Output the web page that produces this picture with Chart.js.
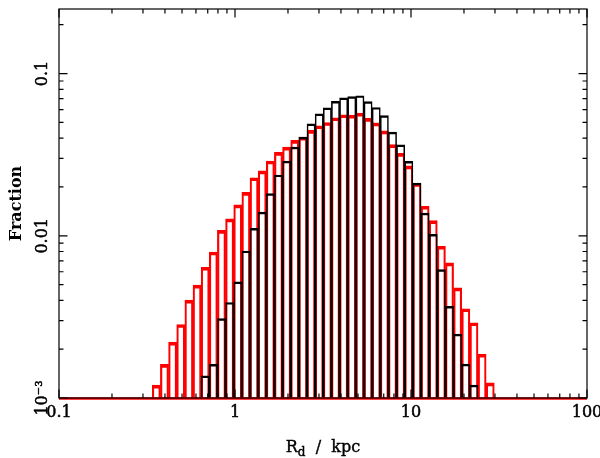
<!DOCTYPE html>
<html><head><meta charset="utf-8">
<script src="https://cdn.jsdelivr.net/npm/chart.js@4.4.1/dist/chart.umd.min.js"></script>
<style>html,body{margin:0;padding:0;background:#fff}#wrap{width:600px;height:458px}</style>
</head><body><div id="wrap"><canvas id="c" width="600" height="458"></canvas></div>
<script>
// Histogram bins: log-spaced in R_d (kpc)
const binLogStart = -0.470;   // log10 of the lower edge of the first bin
const binLogWidth = 0.04627;  // bin width in dex

// Fraction per bin (red histogram)
const fractionRed = [0.00120, 0.00161, 0.00221, 0.00284, 0.00401, 0.00496, 0.00640, 0.00794, 0.0108, 0.0127,
  0.0155, 0.0185, 0.0228, 0.0251, 0.0289, 0.0327, 0.0352, 0.0387, 0.0406, 0.0446,
  0.0477, 0.0499, 0.0534, 0.0557, 0.0554, 0.0570, 0.0529, 0.0496, 0.0443, 0.0365,
  0.0322, 0.0270, 0.0210, 0.0152, 0.0124, 0.00862, 0.00680, 0.00477, 0.00355, 0.00291,
  0.00186, 0.00124];
// Fraction per bin (black histogram)
const fractionBlack = [null, null, null, null, null, null, 0.00137, 0.00161, 0.00309, 0.00388,
  0.00520, 0.00806, 0.0111, 0.0140, 0.0182, 0.0237, 0.0289, 0.0352, 0.0406, 0.0490,
  0.0565, 0.0615, 0.0675, 0.0709, 0.0720, 0.0730, 0.0671, 0.0618, 0.0550, 0.0435,
  0.0364, 0.0288, 0.0211, 0.0138, 0.0102, 0.00619, 0.00367, 0.00248, 0.00162, 0.00120,
  null, null];

const xTickValues = [0.1, 1, 10, 100];
const xTickLabels = ['0.1', '1', '10', '100'];
const yTickValues = [0.001, 0.01, 0.1];
const yTickLabels = ['10\u207B\u00B3', '0.01', '0.1'];

const binCenters = fractionRed.map((_, i) => Math.pow(10, binLogStart + binLogWidth * (i + 0.5)));

const FONT = '"DejaVu Serif", serif';

const framePlugin = {
  id: 'frame',
  afterDatasetsDraw(chart) {
    const {ctx, chartArea: a, scales: {x, y}} = chart;
    ctx.save();
    // red floor line of the histogram
    ctx.strokeStyle = '#ff0000';
    ctx.lineWidth = 2.5;
    ctx.beginPath(); ctx.moveTo(a.left, a.bottom + 0.5); ctx.lineTo(a.right, a.bottom + 0.5); ctx.stroke();
    // frame
    ctx.strokeStyle = '#000';
    ctx.lineWidth = 1.2;
    ctx.strokeRect(a.left, a.top, a.right - a.left, a.bottom - a.top);
    // inward ticks
    const major = 8.5, minor = 4.5;
    ctx.beginPath();
    for (let e = -1; e <= 2; e++) {
      for (let m = 1; m <= 9; m++) {
        const v = m * Math.pow(10, e);
        if (v > 100 * 1.0001) continue;
        const px = x.getPixelForValue(v);
        const len = m === 1 ? major : minor;
        ctx.moveTo(px, a.bottom); ctx.lineTo(px, a.bottom - len);
        ctx.moveTo(px, a.top); ctx.lineTo(px, a.top + len);
      }
    }
    for (let e = -3; e <= -1; e++) {
      for (let m = 1; m <= 9; m++) {
        const v = m * Math.pow(10, e);
        if (v > 0.25) continue;
        const py = y.getPixelForValue(v);
        const len = m === 1 ? major : minor;
        ctx.moveTo(a.left, py); ctx.lineTo(a.left + len, py);
        ctx.moveTo(a.right, py); ctx.lineTo(a.right - len, py);
      }
    }
    ctx.stroke();
    // x-axis title with subscript
    const big = '16px ' + FONT, small = '12px ' + FONT;
    ctx.fillStyle = '#000';
    ctx.strokeStyle = '#000';
    ctx.lineWidth = 0.4;
    ctx.textBaseline = 'alphabetic';
    ctx.textAlign = 'left';
    ctx.font = big; const wR = ctx.measureText('R').width; const wRest = ctx.measureText('  /  kpc').width;
    ctx.font = small; const wd = ctx.measureText('d').width;
    const total = wR + wd + wRest;
    let tx = (a.left + a.right) / 2 - total / 2;
    const base = 452;
    ctx.font = big; ctx.fillText('R', tx, base); ctx.strokeText('R', tx, base); tx += wR;
    ctx.font = small; ctx.fillText('d', tx, base + 4); ctx.strokeText('d', tx, base + 4); tx += wd;
    ctx.font = big; ctx.fillText('  /  kpc', tx, base); ctx.strokeText('  /  kpc', tx, base);
    ctx.restore();
  }
};

const barCommon = {
  grouped: false,
  barPercentage: 1,
  categoryPercentage: 1,
  backgroundColor: 'rgba(0,0,0,0)',
  borderSkipped: 'start',
  base: 0.001
};

const tickFont = {family: FONT, size: 16};

new Chart(document.getElementById('c'), {
  type: 'bar',
  data: {
    datasets: [
      Object.assign({
        label: 'black',
        data: binCenters.map((x, i) => ({x, y: fractionBlack[i]})),
        borderColor: '#000000',
        borderWidth: {top: 1.8, left: 0.9, right: 0.9, bottom: 0}
      }, barCommon),
      Object.assign({
        label: 'red',
        data: binCenters.map((x, i) => ({x, y: fractionRed[i]})),
        borderColor: '#ff0000',
        borderWidth: {top: 3, left: 1.5, right: 1.5, bottom: 0}
      }, barCommon)
    ]
  },
  options: {
    responsive: false,
    animation: false,
    devicePixelRatio: 1,
    layout: {padding: {left: 0, right: 13, top: 9, bottom: 0}},
    plugins: {legend: {display: false}, tooltip: {enabled: false}},
    scales: {
      x: {
        type: 'logarithmic',
        min: 0.1, max: 100,
        offset: false,
        grid: {display: false, drawTicks: false, offset: false},
        border: {display: false},
        afterBuildTicks: s => { s.ticks = xTickValues.map(v => ({value: v})); },
        afterFit: s => { s.height = 60; s.paddingLeft = 0; s.paddingRight = 0; },
        ticks: {
          autoSkip: false, maxRotation: 0, minRotation: 0, padding: 5,
          color: '#000', font: tickFont, textStrokeColor: '#000', textStrokeWidth: 0.5,
          callback: v => xTickLabels[xTickValues.indexOf(v)]
        }
      },
      y: {
        type: 'logarithmic',
        min: 0.001, max: 0.25,
        grid: {display: false, drawTicks: false},
        border: {display: false},
        afterBuildTicks: s => { s.ticks = yTickValues.map(v => ({value: v})); },
        afterFit: s => { s.width = 59; },
        title: {display: true, text: 'Fraction', color: '#000', font: {family: FONT, size: 16, weight: 'bold'}, padding: {top: 7, bottom: 0}},
        ticks: {
          autoSkip: false, minRotation: 90, maxRotation: 90, crossAlign: 'center', padding: -2,
          color: '#000', font: tickFont, textStrokeColor: '#000', textStrokeWidth: 0.5,
          callback: v => yTickLabels[yTickValues.indexOf(v)]
        }
      }
    }
  },
  plugins: [framePlugin]
});
</script>
</body></html>
